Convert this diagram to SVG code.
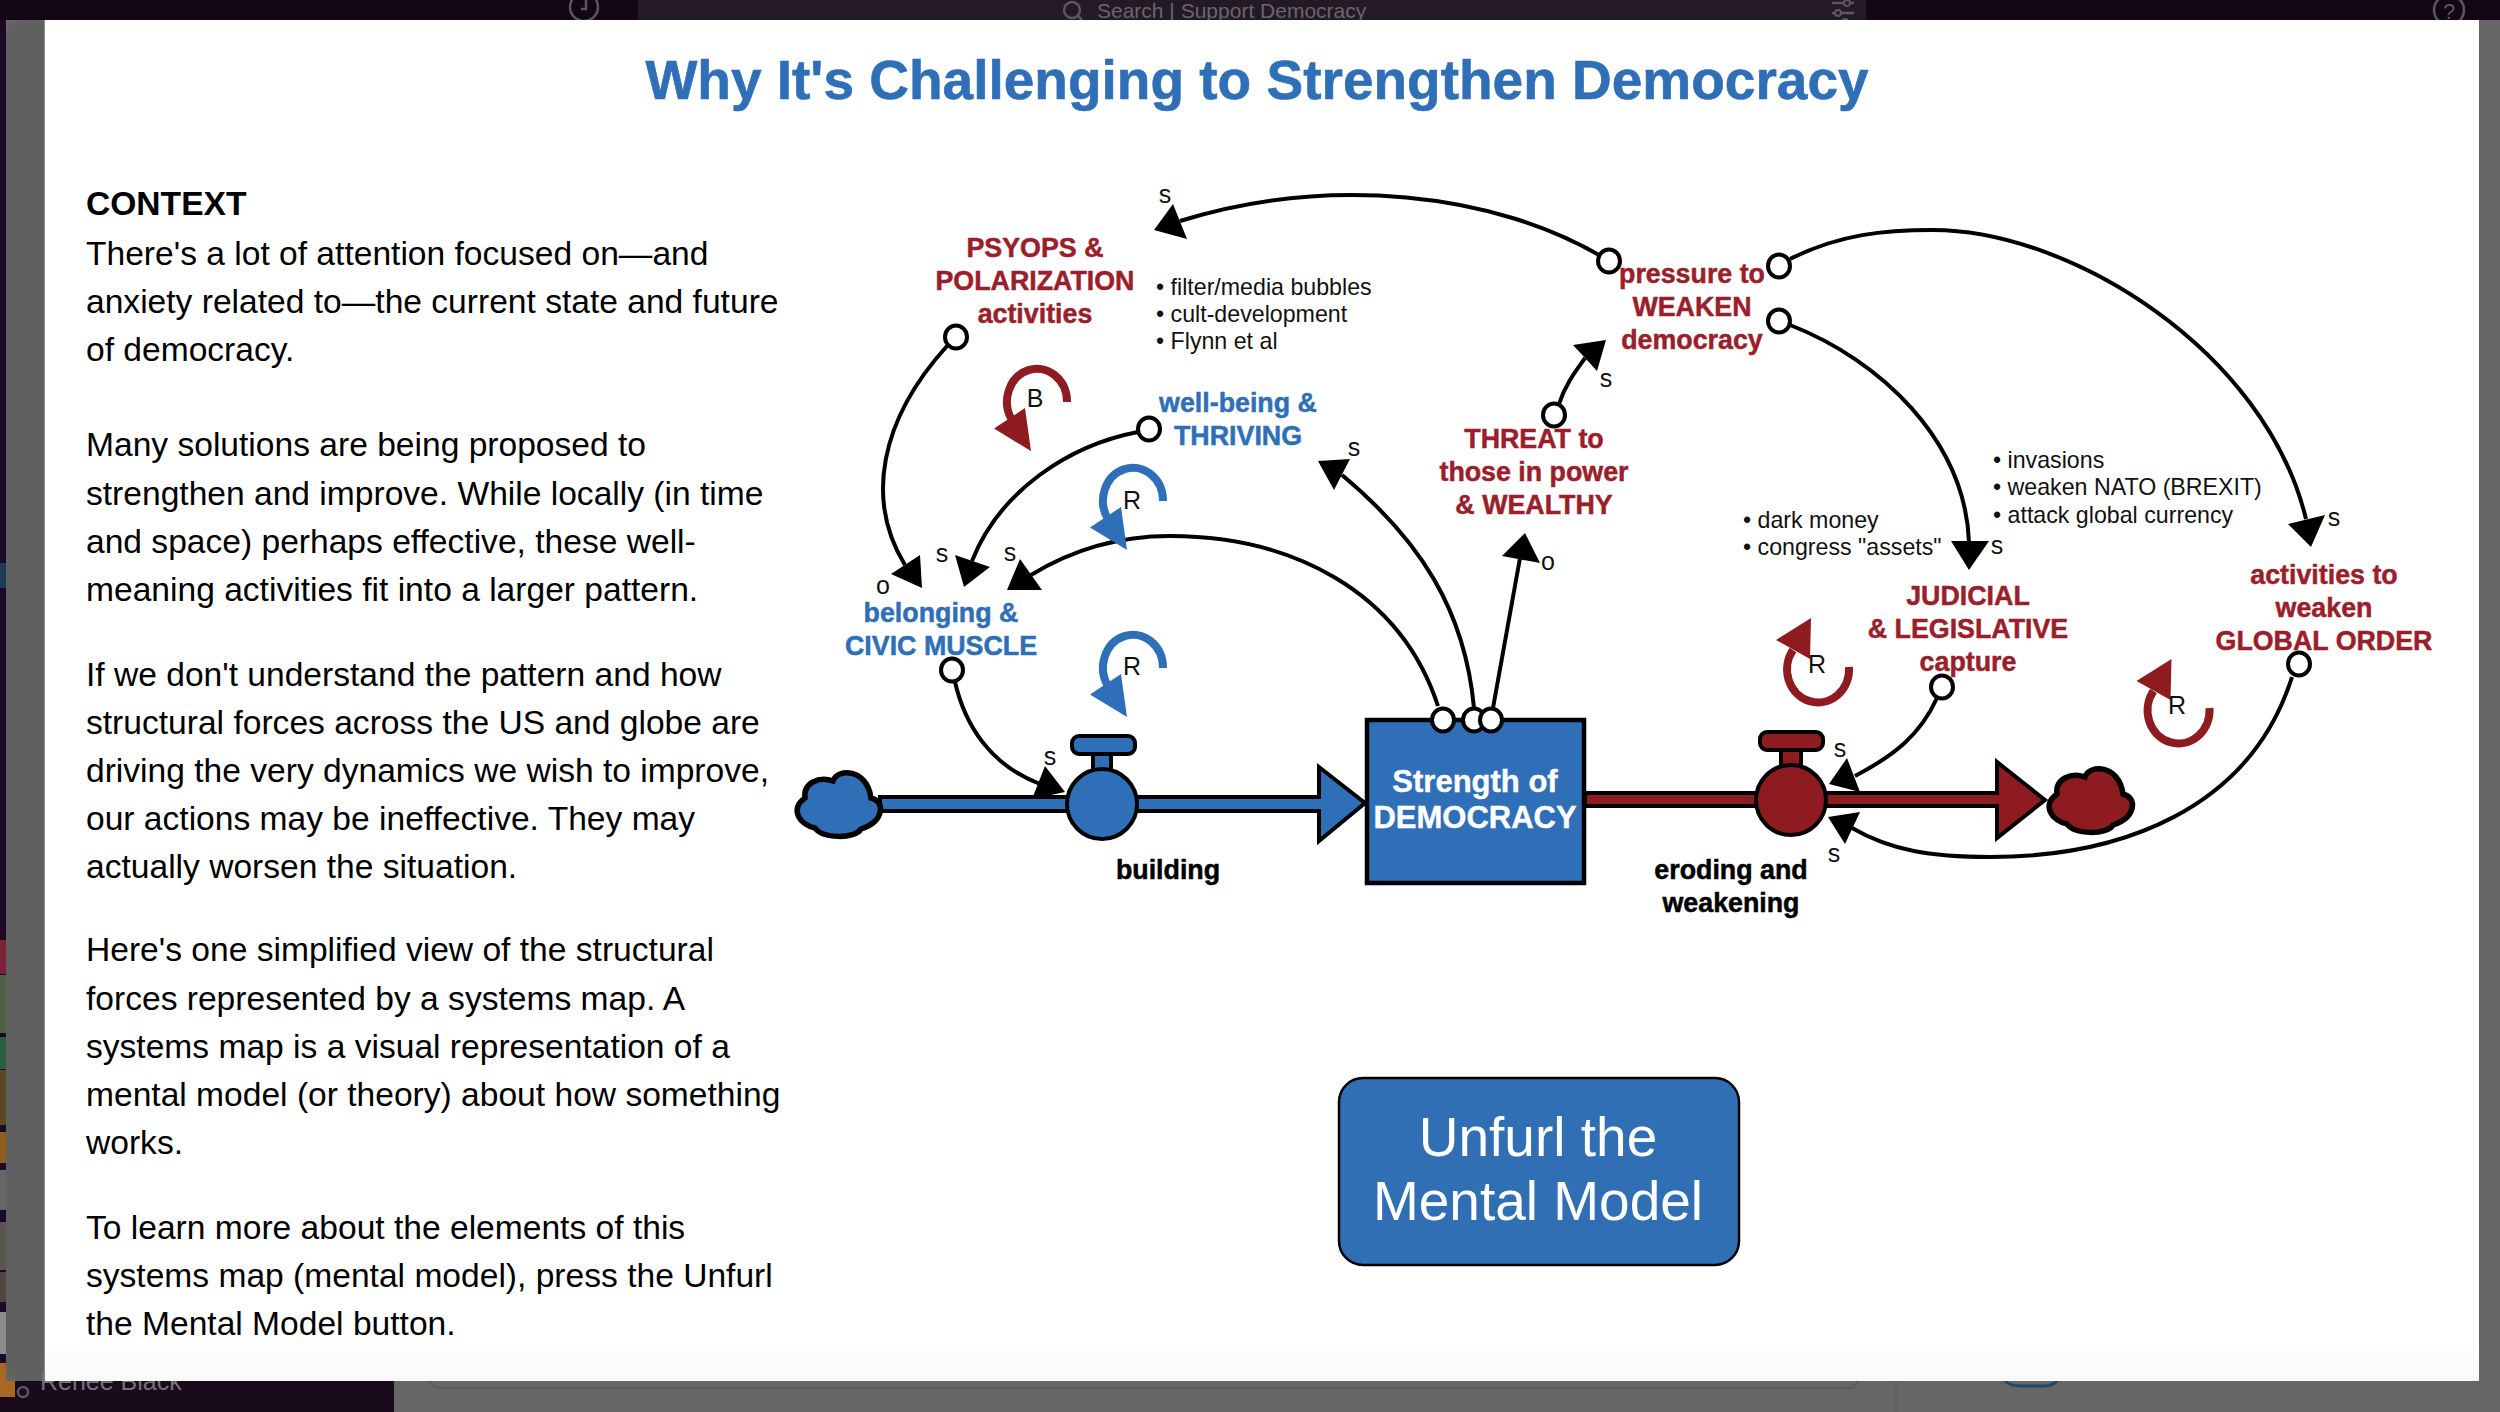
<svg xmlns="http://www.w3.org/2000/svg" width="2500" height="1412" viewBox="0 0 2500 1412">
  <style>
    text { font-family: "Liberation Sans", Arial, sans-serif; }
    .body { font-size: 33.6px; fill: #000; }
    .bold { font-weight: bold; }
    .lab { font-size: 26.8px; font-weight: bold; text-anchor: middle; stroke-width: 0.5; }
    .red { fill: #9a1f2b; stroke: #9a1f2b; }
    .blue { fill: #2f6fb7; stroke: #2f6fb7; }
    .ink { fill: #000; stroke: #000; }
    .note { font-size: 23.2px; fill: #111; }
    .pol { font-size: 25px; fill: #111; text-anchor: middle; }
    .link { fill: none; stroke: #000; stroke-width: 4; }
    .head { fill: #000; }
    .port { fill: #fff; stroke: #000; stroke-width: 4; }
    .flowB { fill: #2f6fb7; stroke: #000; stroke-width: 4; stroke-linejoin: miter; }
    .flowR { fill: #8e1b20; stroke: #000; stroke-width: 4; stroke-linejoin: miter; }
    .cloud { stroke-width: 5.5; }
    .chrome { fill: none; stroke: #5d5660; stroke-width: 2.5; }
    .loopB { fill: none; stroke: #2f6fb7; stroke-width: 8; }
    .loopR { fill: none; stroke: #8e1b20; stroke-width: 8; }
    .arrowB { fill: #2f6fb7; }
    .arrowR { fill: #8e1b20; }
  </style>
  <defs>
    <linearGradient id="panelFade" x1="0" y1="0" x2="0" y2="1">
      <stop offset="0.97" stop-color="#ffffff"/>
      <stop offset="1" stop-color="#f9f9f9"/>
    </linearGradient>
    <path id="cloudShape" d="M10,27 C8,12 24,5 38,10 C42,-3 72,-3 76,27 C90,30 90,50 66,58 C60,68 28,68 20,57 C5,54 -6,38 10,27 Z"/>
    <g id="loopBlue">
      <path class="loopB" d="M1067,402 A30 33 0 1 0 1012,420"/>
      <polygon class="arrowB" points="1025,408 994,428.6 1031,451"/>
    </g>
    <g id="loopRed">
      <path class="loopR" d="M1849,667 A31 33 0 1 1 1793,650"/>
      <polygon class="arrowR" points="1811,618 1776,640 1810,659"/>
    </g>
  </defs>

  <!-- page behind the dialog -->
  <g id="backdrop">
    <rect width="2500" height="1412" fill="#666666"/>
    <rect x="0" y="0" width="2500" height="20" fill="#120514"/>
    <rect x="638" y="0" width="1228" height="20" fill="#241a26"/>
    <rect x="0" y="20" width="6" height="1361" fill="#1c0a24"/>
    <rect x="0" y="563" width="6" height="25" fill="#1d3a5c"/>
    <rect x="0" y="940" width="6" height="34" fill="#7c2038"/>
    <rect x="0" y="975" width="6" height="58" fill="#525e48"/>
    <rect x="0" y="1037" width="6" height="32" fill="#285f42"/>
    <rect x="0" y="1070" width="6" height="55" fill="#5c4624"/>
    <rect x="0" y="1132" width="6" height="31" fill="#8c5e1e"/>
    <rect x="0" y="1170" width="6" height="40" fill="#666666"/>
    <rect x="0" y="1222" width="6" height="48" fill="#5c5650"/>
    <rect x="0" y="1272" width="6" height="30" fill="#504840"/>
    <rect x="0" y="1312" width="6" height="42" fill="#8c8c8c"/>
    <path d="M6,40 Q6,20 24,20 L46,20 L46,1381 L26,1381 Q6,1381 6,1360 Z" fill="#606060"/>
    <rect x="44" y="20" width="1.5" height="1361" fill="#8f8f8f"/>
    <rect x="0" y="1381" width="394" height="31" fill="#190a1c"/>
    <path d="M0,1363 H6 V1381 H15 V1397 H0 Z" fill="#a8681f"/>
    <circle cx="23" cy="1392" r="5" class="chrome"/>
    <text x="40" y="1390" font-size="25" fill="#77707a">Renee Black</text>
    <path d="M430,1381 Q432,1388 445,1388 L1850,1388 Q1856,1388 1858,1381" fill="none" stroke="#5a5a5a" stroke-width="2"/>
    <line x1="1896" y1="1381" x2="1896" y2="1412" stroke="#595959" stroke-width="1.5"/>
    <path d="M2005,1381 Q2010,1386 2020,1386 L2043,1386 Q2053,1386 2057,1381" fill="none" stroke="#1d4a6b" stroke-width="3"/>
    <circle cx="584" cy="7" r="14" class="chrome"/>
    <path d="M586,0 V9 H581" class="chrome"/>
    <circle cx="1072" cy="10" r="8" class="chrome"/>
    <line x1="1078" y1="16" x2="1082" y2="20" class="chrome"/>
    <text x="1097" y="18" font-size="21" fill="#6b646e">Search | Support Democracy</text>
    <path d="M1832,3 H1854 M1832,13 H1854 M1832,22 H1854" class="chrome"/>
    <circle cx="1847" cy="3" r="3" fill="#241a26" stroke="#5d5660" stroke-width="2"/>
    <circle cx="1838" cy="13" r="3" fill="#241a26" stroke="#5d5660" stroke-width="2"/>
    <circle cx="1845" cy="22" r="3" fill="#241a26" stroke="#5d5660" stroke-width="2"/>
    <circle cx="2449" cy="10" r="15" class="chrome"/>
    <text x="2449" y="19" font-size="22" fill="#5d5660" text-anchor="middle">?</text>
  </g>

  <rect id="panel" x="45" y="20" width="2434" height="1361" fill="url(#panelFade)"/>

  <text id="title" x="1257" y="99" font-size="55" font-weight="bold" fill="#2f6fb7" stroke="#2f6fb7" stroke-width="0.6" text-anchor="middle">Why It's Challenging to Strengthen Democracy</text>

  <g id="context">
    <text class="body bold" x="86" y="215">CONTEXT</text>
    <text class="body" x="86" y="265">There's a lot of attention focused on—and</text>
    <text class="body" x="86" y="313">anxiety related to—the current state and future</text>
    <text class="body" x="86" y="361">of democracy.</text>
    <text class="body" x="86" y="456">Many solutions are being proposed to</text>
    <text class="body" x="86" y="505">strengthen and improve. While locally (in time</text>
    <text class="body" x="86" y="553">and space) perhaps effective, these well-</text>
    <text class="body" x="86" y="601">meaning activities fit into a larger pattern.</text>
    <text class="body" x="86" y="686">If we don't understand the pattern and how</text>
    <text class="body" x="86" y="734">structural forces across the US and globe are</text>
    <text class="body" x="86" y="782">driving the very dynamics we wish to improve,</text>
    <text class="body" x="86" y="830">our actions may be ineffective. They may</text>
    <text class="body" x="86" y="878">actually worsen the situation.</text>
    <text class="body" x="86" y="961">Here's one simplified view of the structural</text>
    <text class="body" x="86" y="1010">forces represented by a systems map. A</text>
    <text class="body" x="86" y="1058">systems map is a visual representation of a</text>
    <text class="body" x="86" y="1106">mental model (or theory) about how something</text>
    <text class="body" x="86" y="1154">works.</text>
    <text class="body" x="86" y="1239">To learn more about the elements of this</text>
    <text class="body" x="86" y="1287">systems map (mental model), press the Unfurl</text>
    <text class="body" x="86" y="1335">the Mental Model button.</text>
  </g>

  <!-- inflow: source, pipe, valve -->
  <g id="flow-building">
    <polygon class="flowB" points="880,797 1319,797 1319,767 1365,803 1319,841 1319,811 880,811"/>
    <use href="#cloudShape" class="flowB cloud" transform="translate(795,771)"/>
    <rect class="flowB" x="1093" y="752" width="18" height="22"/>
    <rect class="flowB" x="1072" y="736" width="63" height="18" rx="7"/>
    <ellipse class="flowB" cx="1102" cy="804" rx="35" ry="35"/>
    <text class="lab ink" x="1168" y="879">building</text>
  </g>

  <g id="stock-democracy">
    <rect x="1367" y="720" width="217" height="163" fill="#2f6fb7" stroke="#000" stroke-width="4.5"/>
    <text x="1475" y="792" font-size="31" font-weight="bold" fill="#fff" stroke="#fff" stroke-width="0.4" text-anchor="middle">Strength of</text>
    <text x="1475" y="828" font-size="31" font-weight="bold" fill="#fff" stroke="#fff" stroke-width="0.4" text-anchor="middle">DEMOCRACY</text>
  </g>

  <!-- outflow: pipe, valve, sink -->
  <g id="flow-eroding">
    <polygon class="flowR" points="1585,793 1997,793 1997,762 2045,800 1997,838 1997,806 1585,806"/>
    <use href="#cloudShape" class="flowR cloud" transform="translate(2047,767)"/>
    <rect class="flowR" x="1781" y="748" width="20" height="20"/>
    <rect class="flowR" x="1760" y="732" width="63" height="18" rx="7"/>
    <ellipse class="flowR" cx="1791" cy="800" rx="35" ry="35"/>
    <text class="lab ink" x="1731" y="879">eroding and</text>
    <text class="lab ink" x="1731" y="912">weakening</text>
  </g>

  <g id="connectors">
    <path class="link" d="M1609,261 C1495,190 1325,176 1180,221"/>
    <polygon class="head" points="1154,230 1173,204 1187,239"/>
    <path class="link" d="M947,346 C880,420 865,500 905,565"/>
    <polygon class="head" points="922,588 920,555 891,574"/>
    <path class="link" d="M1138,432 C1070,445 1000,490 972,561"/>
    <polygon class="head" points="964,587 955,555 990,567"/>
    <path class="link" d="M1438,706 C1400,590 1290,536 1170,536 C1120,536 1075,548 1031,575"/>
    <polygon class="head" points="1007,590 1020,559 1042,590"/>
    <path class="link" d="M1474,708 C1465,610 1420,540 1342,475"/>
    <polygon class="head" points="1318,461 1350,459 1334,490"/>
    <path class="link" d="M1493,708 L1520,558"/>
    <polygon class="head" points="1525,533 1502,556 1540,563"/>
    <path class="link" d="M1559,404 C1565,385 1575,372 1585,358"/>
    <polygon class="head" points="1606,340 1573,345 1597,371"/>
    <path class="link" d="M1790,259 C1840,234 1885,230 1933,230 C2070,230 2265,350 2306,519"/>
    <polygon class="head" points="2311,547 2288,524 2325,515"/>
    <path class="link" d="M1790,325 C1880,360 1965,440 1969,542"/>
    <polygon class="head" points="1969,570 1951,541 1989,541"/>
    <path class="link" d="M955,682 C965,725 990,765 1040,784"/>
    <polygon class="head" points="1065,792 1045,766 1032,799"/>
    <path class="link" d="M1937,698 C1920,735 1895,755 1855,776"/>
    <polygon class="head" points="1829,784 1847,758 1860,792"/>
    <path class="link" d="M2292,677 C2250,810 2120,857 1990,857 C1930,857 1890,850 1852,828"/>
    <polygon class="head" points="1828,817 1860,812 1845,844"/>

    <ellipse class="port" cx="1609" cy="261" rx="11" ry="11.5"/>
    <ellipse class="port" cx="956" cy="337" rx="11" ry="11.5"/>
    <ellipse class="port" cx="1149" cy="429" rx="11" ry="11.5"/>
    <ellipse class="port" cx="952" cy="670" rx="11" ry="11.5"/>
    <ellipse class="port" cx="1443" cy="720" rx="11" ry="11.5"/>
    <ellipse class="port" cx="1474" cy="720" rx="11" ry="11.5"/>
    <ellipse class="port" cx="1491" cy="720" rx="11" ry="11.5"/>
    <ellipse class="port" cx="1554" cy="415" rx="11" ry="11.5"/>
    <ellipse class="port" cx="1779" cy="266" rx="11" ry="11.5"/>
    <ellipse class="port" cx="1779" cy="321" rx="11" ry="11.5"/>
    <ellipse class="port" cx="1942" cy="687" rx="11" ry="11.5"/>
    <ellipse class="port" cx="2299" cy="664" rx="11" ry="11.5"/>

    <text class="pol" x="1165" y="203">s</text>
    <text class="pol" x="883" y="594">o</text>
    <text class="pol" x="942" y="562">s</text>
    <text class="pol" x="1010" y="561">s</text>
    <text class="pol" x="1354" y="456">s</text>
    <text class="pol" x="1548" y="570">o</text>
    <text class="pol" x="1606" y="387">s</text>
    <text class="pol" x="1997" y="554">s</text>
    <text class="pol" x="2334" y="526">s</text>
    <text class="pol" x="1050" y="765">s</text>
    <text class="pol" x="1840" y="757">s</text>
    <text class="pol" x="1834" y="862">s</text>
  </g>

  <g id="loop-balancing">
    <path class="loopR" d="M1067,402 A30 33 0 1 0 1012,420"/>
    <polygon class="arrowR" points="1025,408 994,428.6 1031,451"/>
    <text class="pol" x="1035" y="407">B</text>
  </g>
  <g id="loop-r1">
    <use href="#loopBlue" transform="translate(96,99)"/>
    <text class="pol" x="1132" y="509">R</text>
  </g>
  <g id="loop-r2">
    <use href="#loopBlue" transform="translate(96,266)"/>
    <text class="pol" x="1132" y="675">R</text>
  </g>
  <g id="loop-r3">
    <use href="#loopRed"/>
    <text class="pol" x="1817" y="673">R</text>
  </g>
  <g id="loop-r4">
    <use href="#loopRed" transform="translate(360.5,41)"/>
    <text class="pol" x="2177" y="714">R</text>
  </g>

  <g id="node-psyops">
    <text class="lab red" x="1035" y="257">PSYOPS &amp;</text>
    <text class="lab red" x="1035" y="290">POLARIZATION</text>
    <text class="lab red" x="1035" y="323">activities</text>
  </g>
  <g id="notes-psyops">
    <text class="note" x="1156" y="295">• filter/media bubbles</text>
    <text class="note" x="1156" y="322">• cult-development</text>
    <text class="note" x="1156" y="349">• Flynn et al</text>
  </g>
  <g id="node-wellbeing">
    <text class="lab blue" x="1238" y="412">well-being &amp;</text>
    <text class="lab blue" x="1238" y="445">THRIVING</text>
  </g>
  <g id="node-belonging">
    <text class="lab blue" x="941" y="622">belonging &amp;</text>
    <text class="lab blue" x="941" y="655">CIVIC MUSCLE</text>
  </g>
  <g id="node-threat">
    <text class="lab red" x="1534" y="448">THREAT to</text>
    <text class="lab red" x="1534" y="481">those in power</text>
    <text class="lab red" x="1534" y="514">&amp; WEALTHY</text>
  </g>
  <g id="node-pressure">
    <text class="lab red" x="1692" y="283">pressure to</text>
    <text class="lab red" x="1692" y="316">WEAKEN</text>
    <text class="lab red" x="1692" y="349">democracy</text>
  </g>
  <g id="notes-capture">
    <text class="note" x="1743" y="528">• dark money</text>
    <text class="note" x="1743" y="555">• congress "assets"</text>
  </g>
  <g id="notes-global">
    <text class="note" x="1993" y="468">• invasions</text>
    <text class="note" x="1993" y="495">• weaken NATO (BREXIT)</text>
    <text class="note" x="1993" y="523">• attack global currency</text>
  </g>
  <g id="node-judicial">
    <text class="lab red" x="1968" y="605">JUDICIAL</text>
    <text class="lab red" x="1968" y="638">&amp; LEGISLATIVE</text>
    <text class="lab red" x="1968" y="671">capture</text>
  </g>
  <g id="node-global">
    <text class="lab red" x="2324" y="584">activities to</text>
    <text class="lab red" x="2324" y="617">weaken</text>
    <text class="lab red" x="2324" y="650">GLOBAL ORDER</text>
  </g>

  <g id="button-unfurl">
    <rect x="1339" y="1078" width="400" height="187" rx="24" fill="#316fb5" stroke="#000" stroke-width="2.5"/>
    <text x="1538" y="1156" font-size="55" fill="#fff" text-anchor="middle">Unfurl the</text>
    <text x="1538" y="1220" font-size="55" fill="#fff" text-anchor="middle">Mental Model</text>
  </g>
</svg>
